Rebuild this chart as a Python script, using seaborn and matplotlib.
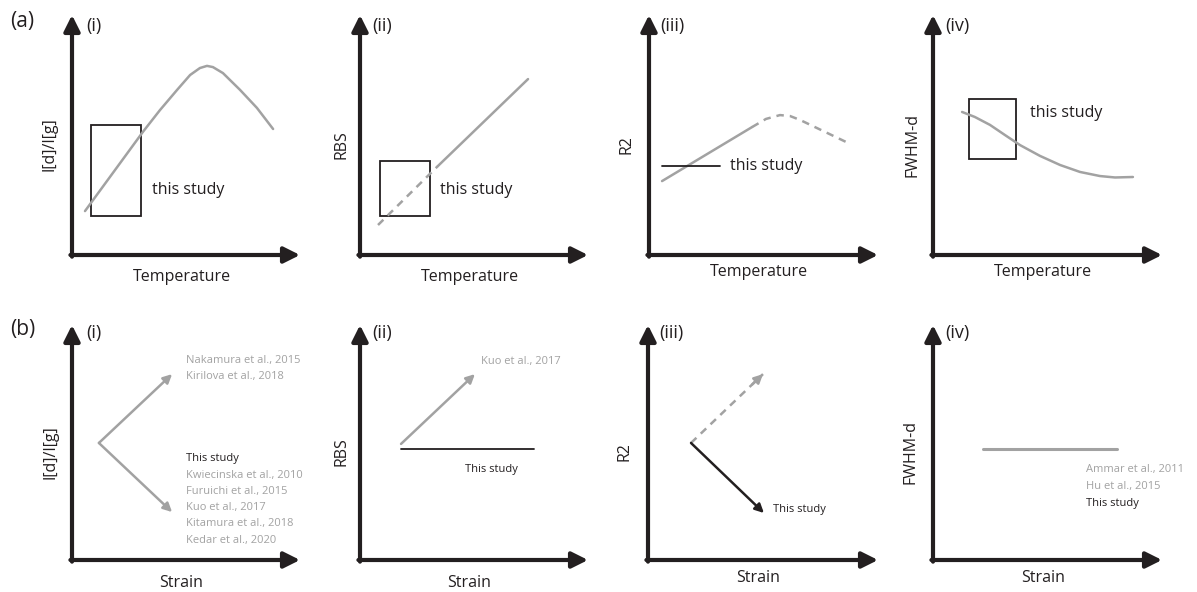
import seaborn as sns
import matplotlib.pyplot as plt
from matplotlib.patches import Rectangle

# ---- schematic values, every panel on a 0-100 x 0-100 scale ----
# (a)(i) I[d]/I[g] vs temperature
ai_x = [5.7, 31.1, 38.6, 46.1, 51.8, 56.1, 59.2, 61.8, 66.2, 73.7, 81.1, 88.2]
ai_y = [18.3, 51.3, 60.4, 68.8, 75.0, 77.9, 78.8, 78.3, 75.8, 68.8, 61.3, 52.5]
ai_box = [8.3, 16.3, 30.3, 54.2]          # x0, y0, x1, y1

# (a)(ii) RBS vs temperature
aii_dash_x = [7.9, 34.2]
aii_dash_y = [12.5, 37.1]
aii_solid_x = [34.2, 73.7]
aii_solid_y = [37.1, 73.3]
aii_box = [8.8, 16.3, 30.7, 39.2]

# (a)(iii) R2 vs temperature
aiii_solid_x = [5.7, 45.0]
aiii_solid_y = [30.8, 53.3]
aiii_dash_x = [45.0, 51.1, 57.2, 61.6, 65.9, 87.8]
aiii_dash_y = [53.3, 56.7, 58.3, 57.9, 56.3, 46.3]
aiii_study_x = [5.7, 31.0]
aiii_study_y = [37.1, 37.1]

# (a)(iv) FWHM-d vs temperature
aiv_x = [12.7, 18.3, 24.9, 31.4, 38.0, 46.7, 55.5, 64.2, 72.9, 79.5, 87.3]
aiv_y = [59.6, 57.5, 54.2, 50.0, 45.8, 41.3, 37.5, 34.6, 32.9, 32.3, 32.5]
aiv_box = [15.7, 40.0, 36.2, 65.0]

# (b)(i) I[d]/I[g] vs strain
bi_origin = (11.8, 49.8)
bi_up = (43.9, 79.1)
bi_down = (43.9, 20.4)
bi_up_refs = ['Nakamura et al., 2015', 'Kirilova et al., 2018']
bi_down_refs = ['This study', 'Kwiecinska et al., 2010', 'Furuichi et al., 2015',
                'Kuo et al., 2017', 'Kitamura et al., 2018', 'Kedar et al., 2020']

# (b)(ii) RBS vs strain
bii_origin = (18.0, 49.4)
bii_up = (50.4, 79.1)
bii_study_x = [18.0, 76.3]
bii_study_y = [47.2, 47.2]

# (b)(iii) R2 vs strain
biii_origin = (18.7, 49.8)
biii_up = (50.0, 79.1)
biii_down = (50.4, 20.0)

# (b)(iv) FWHM-d vs strain
biv_x = [21.8, 80.3]
biv_y = [47.2, 47.2]
biv_refs = ['Ammar et al., 2011', 'Hu et al., 2015', 'This study']

GREY = '#a2a2a2'
DARK = '#231f20'
DASH = (0, (3, 2.4))

sns.set_theme(style='white')
plt.rcParams['font.family'] = ['Open Sans', 'DejaVu Sans']

fig = plt.figure(figsize=(11.97, 5.92), dpi=100)


def add_panel(x0, y0, w, h):
    # rectangle given in pixels of the 1197x592 canvas
    return fig.add_axes([x0 / 1197, 1 - y0 / 592, w / 1197, h / 592])


def setup(ax, xlabel, ylabel, tag, xl_y, yl_x, tag_x, tag_y):
    ax.set_xlim(0, 100)
    ax.set_ylim(0, 100)
    ax.axis('off')
    arr = dict(arrowstyle='-|>', lw=3, color=DARK, mutation_scale=24,
               shrinkA=0, shrinkB=0)
    ax.annotate('', xy=(1, 0), xytext=(-0.007, 0), xycoords='axes fraction',
                arrowprops=arr)
    ax.annotate('', xy=(0, 1), xytext=(0, -0.007), xycoords='axes fraction',
                arrowprops=arr)
    ax.text(0.48, xl_y, xlabel, transform=ax.transAxes, ha='center',
            va='center', fontsize=11.5, color=DARK)
    ax.text(yl_x, 0.46, ylabel, transform=ax.transAxes, ha='center',
            va='center', rotation=90, fontsize=11.5, color=DARK)
    ax.text(tag_x, tag_y, tag, transform=ax.transAxes, ha='left',
            va='center', fontsize=13, color=DARK)


def line(ax, x, y, color=GREY, lw=1.8, ls='-'):
    sns.lineplot(x=x, y=y, ax=ax, color=color, lw=lw, linestyle=ls,
                 sort=False, estimator=None, legend=False)


def box(ax, b):
    ax.add_patch(Rectangle((b[0], b[1]), b[2] - b[0], b[3] - b[1],
                           fill=False, ec=DARK, lw=1.3))


def arrow(ax, start, end, color=GREY, lw=1.8):
    ax.annotate('', xy=end, xytext=start,
                arrowprops=dict(arrowstyle='-|>', color=color, lw=lw,
                                mutation_scale=13, shrinkA=0, shrinkB=0))


def refs(ax, x, y_top, names, black=(), step=6.9):
    for i, name in enumerate(names):
        ax.text(x, y_top - i * step, name, ha='left', va='center', fontsize=8,
                color=DARK if name in black else GREY)


# ---------------- row (a) ----------------
ax = add_panel(72, 255, 228, 240)
setup(ax, 'Temperature', 'I[d]/I[g]', '(i)', -0.092, -0.1, 0.062, 0.955)
line(ax, ai_x, ai_y)
box(ax, ai_box)
ax.text(35.1, 27.1, 'this study', ha='left', va='center', fontsize=11.5, color=DARK)

ax = add_panel(360, 255, 228, 240)
setup(ax, 'Temperature', 'RBS', '(ii)', -0.092, -0.08, 0.055, 0.955)
line(ax, aii_dash_x, aii_dash_y, ls=DASH)
line(ax, aii_solid_x, aii_solid_y)
box(ax, aii_box)
ax.text(35.1, 27.1, 'this study', ha='left', va='center', fontsize=11.5, color=DARK)

ax = add_panel(649, 255, 229, 240)
setup(ax, 'Temperature', 'R2', '(iii)', -0.07, -0.1, 0.05, 0.955)
line(ax, aiii_solid_x, aiii_solid_y)
line(ax, aiii_dash_x, aiii_dash_y, ls=DASH)
line(ax, aiii_study_x, aiii_study_y, color=DARK, lw=1.3)
ax.text(35.4, 37.1, 'this study', ha='left', va='center', fontsize=11.5, color=DARK)

ax = add_panel(933, 255, 229, 240)
setup(ax, 'Temperature', 'FWHM-d', '(iv)', -0.07, -0.09, 0.055, 0.955)
line(ax, aiv_x, aiv_y)
box(ax, aiv_box)
ax.text(42.4, 59.2, 'this study', ha='left', va='center', fontsize=11.5, color=DARK)

# ---------------- row (b) ----------------
ax = add_panel(72, 560, 228, 235)
setup(ax, 'Strain', 'I[d]/I[g]', '(i)', -0.098, -0.095, 0.062, 0.965)
arrow(ax, bi_origin, bi_up)
arrow(ax, bi_origin, bi_down)
refs(ax, 50.0, 85.1, bi_up_refs)
refs(ax, 50.0, 43.0, bi_down_refs, black=('This study',))

ax = add_panel(360, 560, 228, 235)
setup(ax, 'Strain', 'RBS', '(ii)', -0.098, -0.08, 0.055, 0.965)
arrow(ax, bii_origin, bii_up)
line(ax, bii_study_x, bii_study_y, color=DARK, lw=1.3)
ax.text(53.1, 84.3, 'Kuo et al., 2017', ha='left', va='center', fontsize=8, color=GREY)
ax.text(46.1, 38.7, 'This study', ha='left', va='center', fontsize=8, color=DARK)

ax = add_panel(648, 560, 230, 235)
setup(ax, 'Strain', 'R2', '(iii)', -0.077, -0.1, 0.05, 0.965)
line(ax, [biii_origin[0], biii_up[0]], [biii_origin[1], biii_up[1]], ls=DASH)
head_start = (biii_origin[0] + 0.85 * (biii_up[0] - biii_origin[0]),
              biii_origin[1] + 0.85 * (biii_up[1] - biii_origin[1]))
arrow(ax, head_start, biii_up)
arrow(ax, biii_origin, biii_down, color=DARK)
ax.text(54.3, 21.3, 'This study', ha='left', va='center', fontsize=8, color=DARK)

ax = add_panel(933, 560, 229, 235)
setup(ax, 'Strain', 'FWHM-d', '(iv)', -0.077, -0.1, 0.055, 0.965)
line(ax, biv_x, biv_y, lw=2.2)
refs(ax, 66.8, 38.3, biv_refs, black=('This study',), step=7.1)

# panel group letters
fig.text(10 / 1197, 1 - 22 / 592, '(a)', ha='left', va='center', fontsize=15, color=DARK)
fig.text(10 / 1197, 1 - 330 / 592, '(b)', ha='left', va='center', fontsize=15, color=DARK)

fig.savefig('out.png', dpi=100)
